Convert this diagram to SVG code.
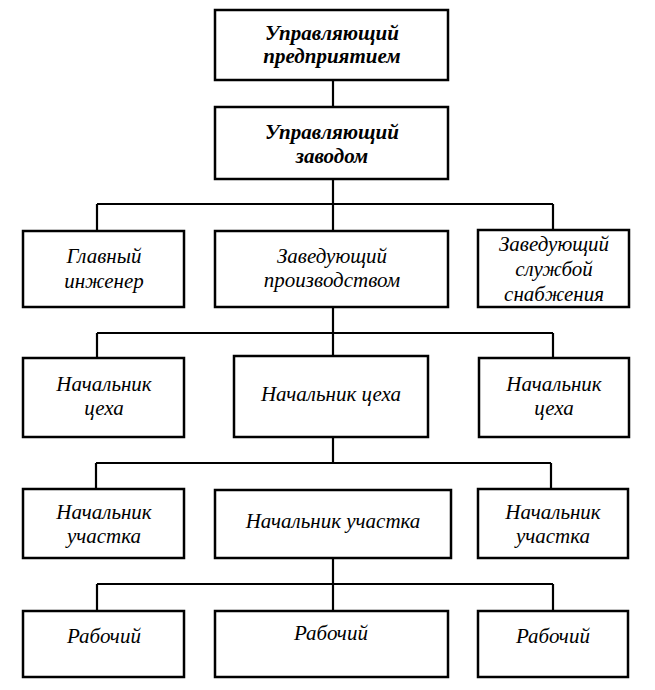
<svg xmlns="http://www.w3.org/2000/svg" width="655" height="690" viewBox="0 0 655 690">
<style>
.box{fill:#fff;stroke:#000;stroke-width:2.5}
.c{fill:none;stroke:#000;stroke-width:2.2}
text{font-family:'Liberation Serif','DejaVu Serif',serif;font-style:italic;font-size:21px;text-anchor:middle;fill:#000}
.b{font-weight:bold}
</style>
<rect width="655" height="690" fill="#fff"/>
<g id="connectors">
<path class="c" d="M333 80V107"/>
<path class="c" d="M333 179V231M97 204H553M97 204V231M553 204V231"/>
<path class="c" d="M333 307V356M97 333H553M97 333V358M553 333V358"/>
<path class="c" d="M333 437V463M96 463H551M96 463V489M551 463V489"/>
<path class="c" d="M333 558V611M97 584H553M97 584V611M553 584V611"/>
</g>
<g font-family="Liberation Serif, DejaVu Serif, serif" font-style="italic">
<g id="n1"><rect class="box" x="215" y="10" width="233" height="70"/><text class="b" x="332" y="40">Управляющий</text><text class="b" x="332" y="63">предприятием</text></g>
<g id="n2"><rect class="box" x="215" y="107" width="233" height="72"/><text class="b" x="332" y="139">Управляющий</text><text class="b" x="332" y="163">заводом</text></g>
<g id="n3"><rect class="box" x="23" y="231" width="161" height="76"/><text x="104" y="263">Главный</text><text x="104" y="288">инженер</text></g>
<g id="n4"><rect class="box" x="215" y="231" width="233" height="76"/><text x="332" y="263">Заведующий</text><text x="332" y="287">производством</text></g>
<g id="n5"><rect class="box" x="478" y="230" width="151" height="77"/><text x="554" y="251">Заведующий</text><text x="554" y="276">службой</text><text x="554" y="301">снабжения</text></g>
<g id="n6"><rect class="box" x="23" y="358" width="161" height="79"/><text x="104" y="391">Начальник</text><text x="104" y="415">цеха</text></g>
<g id="n7"><rect class="box" x="234" y="356" width="194" height="81"/><text x="331" y="401">Начальник цеха</text></g>
<g id="n8"><rect class="box" x="479" y="358" width="150" height="79"/><text x="554" y="391">Начальник</text><text x="554" y="415">цеха</text></g>
<g id="n9"><rect class="box" x="23" y="489" width="161" height="69"/><text x="104" y="519">Начальник</text><text x="104" y="543">участка</text></g>
<g id="n10"><rect class="box" x="215" y="490" width="236" height="68"/><text x="333" y="528">Начальник участка</text></g>
<g id="n11"><rect class="box" x="478" y="489" width="150" height="69"/><text x="553" y="519">Начальник</text><text x="553" y="543">участка</text></g>
<g id="n12"><rect class="box" x="23" y="611" width="161" height="66"/><text x="104" y="643">Рабочий</text></g>
<g id="n13"><rect class="box" x="215" y="611" width="233" height="66"/><text x="331" y="640">Рабочий</text></g>
<g id="n14"><rect class="box" x="478" y="611" width="150" height="66"/><text x="553" y="643">Рабочий</text></g>
</g>
</svg>
